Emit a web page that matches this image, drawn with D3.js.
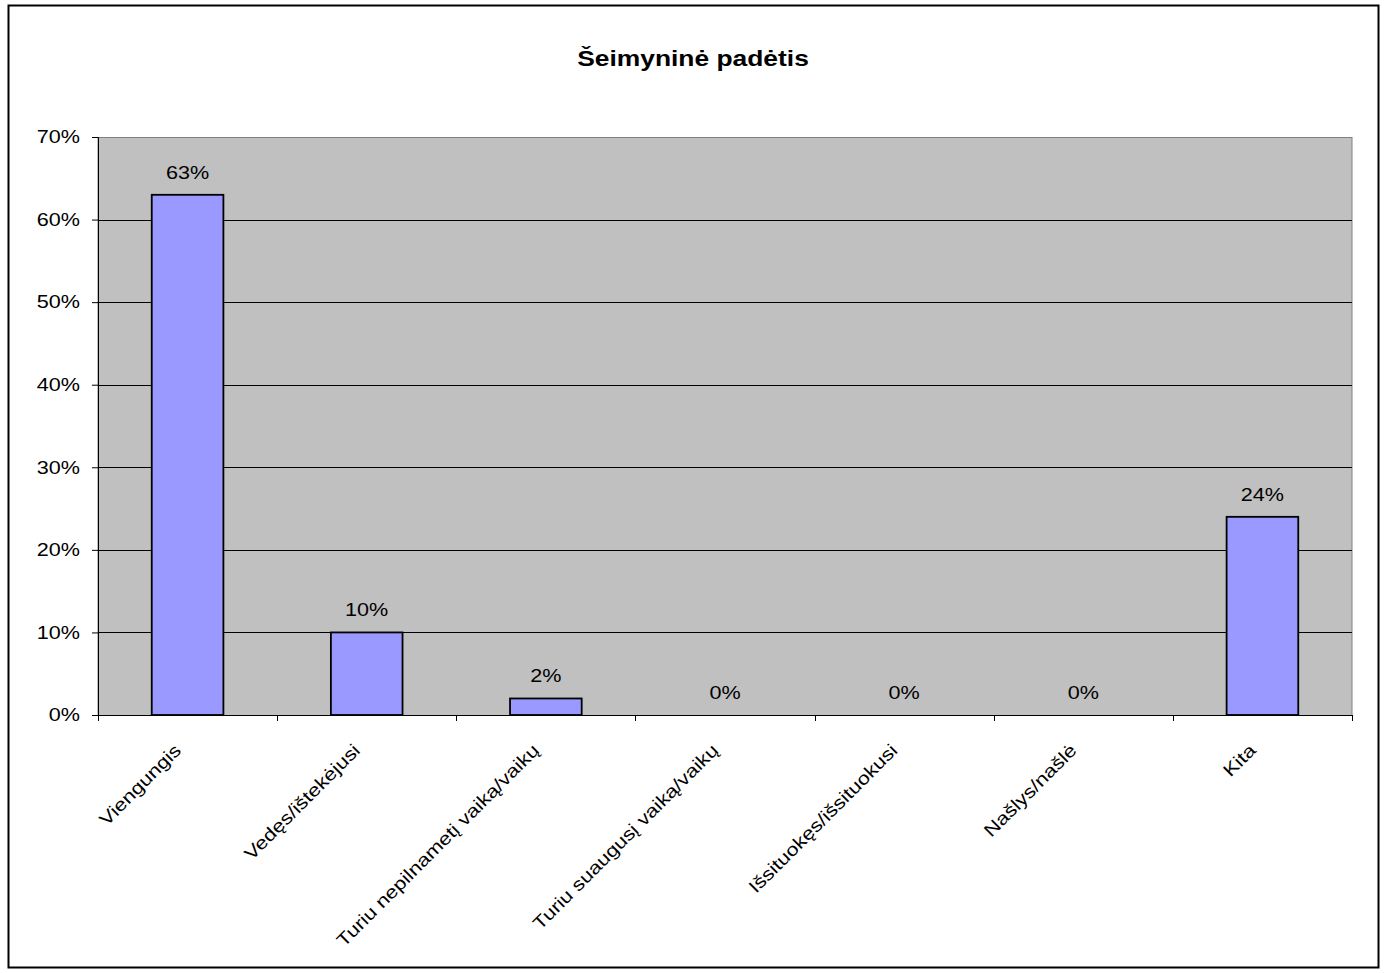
<!DOCTYPE html>
<html>
<head>
<meta charset="utf-8">
<script src="https://cdn.jsdelivr.net/npm/d3@7"></script>
<style>
  html, body { margin: 0; padding: 0; background: #fff; }
  svg { display: block; font-family: "Liberation Sans", Arial, sans-serif; }
</style>
</head>
<body>
<svg id="chart" width="1386" height="973"></svg>
<script>
// Family status survey: share of respondents per category
const categories = [
  "Viengungis",
  "Vedęs/ištekėjusi",
  "Turiu nepilnametį vaiką/vaikų",
  "Turiu suaugusį vaiką/vaikų",
  "Išsituokęs/išsituokusi",
  "Našlys/našlė",
  "Kita"
];
const values = [63, 10, 2, 0, 0, 0, 24];
const yTicks = [0, 10, 20, 30, 40, 50, 60, 70];
const title = "Šeimyninė padėtis";

const svg = d3.select("#chart");
const W = 1386;
const plot = { left: 98, top: 137, right: 1352, bottom: 715 };
const SX = 1.2; // horizontal widening applied to all chart text

// outer frame
svg.append("rect")
  .attr("x", 8.5).attr("y", 5.5)
  .attr("width", 1370).attr("height", 962)
  .attr("fill", "#fff").attr("stroke", "#000").attr("stroke-width", 2);

svg.append("text")
  .attr("transform", `translate(${W / 2},66) scale(${SX},1)`)
  .attr("text-anchor", "middle")
  .attr("font-size", 22).attr("font-weight", "bold")
  .text(title);

const x = d3.scaleBand().domain(categories)
  .range([plot.left, plot.right]).paddingInner(0.6).paddingOuter(0.3);
const band = d3.scaleBand().domain(categories).range([plot.left, plot.right]);
const y = d3.scaleLinear().domain([0, 70]).range([plot.bottom, plot.top]);

// plot area background
svg.append("rect")
  .attr("x", plot.left).attr("y", plot.top + 0.5)
  .attr("width", plot.right - plot.left).attr("height", plot.bottom - plot.top)
  .attr("fill", "#c0c0c0").attr("stroke", "#808080").attr("stroke-width", 1);

// gridlines
svg.append("g").selectAll("line")
  .data(yTicks.filter(t => t > 0 && t < 70))
  .join("line")
  .attr("x1", plot.left).attr("x2", plot.right)
  .attr("y1", d => Math.round(y(d)) + 0.5).attr("y2", d => Math.round(y(d)) + 0.5)
  .attr("stroke", "#000").attr("stroke-width", 1);

// y axis
const yAxis = svg.append("g")
  .attr("transform", `translate(${plot.left},0)`)
  .call(d3.axisLeft(y).tickValues(yTicks).tickFormat(d => d + "%").tickSize(6).tickPadding(12));
yAxis.select(".domain").attr("stroke", "#000");
yAxis.selectAll(".tick line").attr("stroke", "#000");
yAxis.selectAll(".tick text")
  .attr("x", -18 / SX)
  .attr("transform", `scale(${SX},1)`)
  .attr("font-size", 18).attr("fill", "#000")
  .attr("font-family", "Liberation Sans, Arial, sans-serif");

// x axis: ticks sit between categories
const xBounds = categories.map(c => band(c)).concat([plot.right]);
const xAxis = svg.append("g");
xAxis.append("line")
  .attr("x1", plot.left).attr("x2", plot.right)
  .attr("y1", plot.bottom + 0.5).attr("y2", plot.bottom + 0.5)
  .attr("stroke", "#000");
xAxis.selectAll("line.tk").data(xBounds).join("line")
  .attr("class", "tk")
  .attr("x1", d => Math.round(d) + 0.5).attr("x2", d => Math.round(d) + 0.5)
  .attr("y1", plot.bottom).attr("y2", plot.bottom + 6)
  .attr("stroke", "#000");

xAxis.selectAll("text").data(categories).join("text")
  .attr("transform", d => `translate(${band(d) + band.bandwidth() / 2 - 5.5},${plot.bottom + 36.5}) rotate(-45) scale(${SX},1)`)
  .attr("text-anchor", "end")
  .attr("font-size", 18)
  .text(d => d);

// bars
svg.append("g").selectAll("rect")
  .data(categories)
  .join("rect")
  .attr("x", d => x(d))
  .attr("y", (d, i) => y(values[i]))
  .attr("width", x.bandwidth())
  .attr("height", (d, i) => y(0) - y(values[i]))
  .attr("fill", "#9999ff")
  .attr("stroke", "#000")
  .attr("stroke-width", 1.8);

// value labels above bars
svg.append("g").selectAll("text")
  .data(categories)
  .join("text")
  .attr("transform", (d, i) => `translate(${x(d) + x.bandwidth() / 2},${y(values[i]) - 16}) scale(${SX},1)`)
  .attr("text-anchor", "middle")
  .attr("font-size", 18)
  .text((d, i) => values[i] + "%");
</script>
</body>
</html>
